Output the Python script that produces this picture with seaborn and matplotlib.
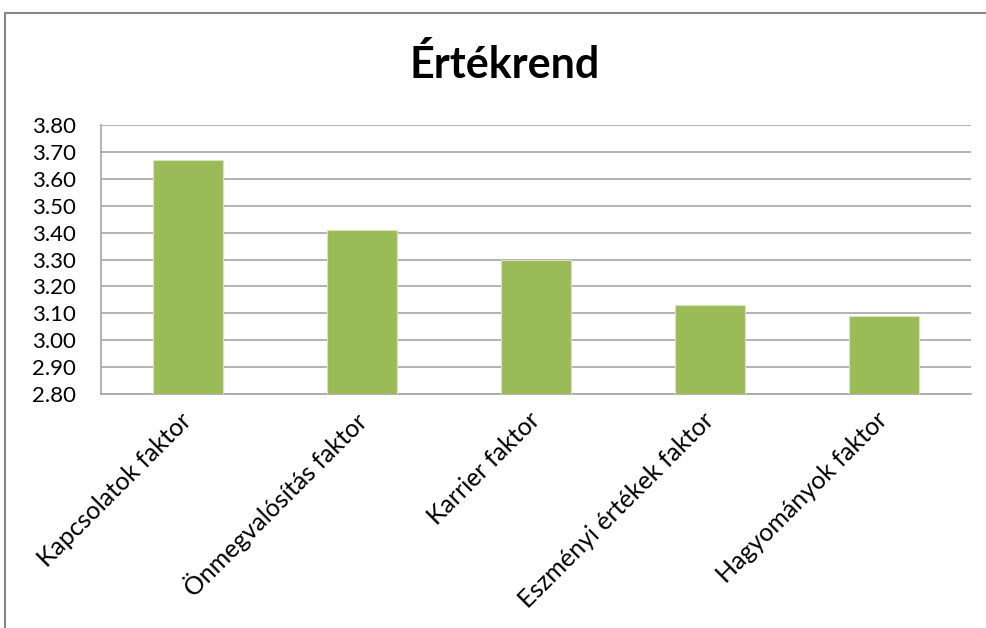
import matplotlib.pyplot as plt
import seaborn as sns
import pandas as pd
from matplotlib.patches import Rectangle

categories = ["Kapcsolatok faktor", "Önmegvalósítás faktor", "Karrier faktor",
              "Eszményi értékek faktor", "Hagyományok faktor"]
values = [3.67, 3.41, 3.30, 3.13, 3.09]
y_ticks = [2.80, 2.90, 3.00, 3.10, 3.20, 3.30, 3.40, 3.50, 3.60, 3.70, 3.80]

df = pd.DataFrame({"faktor": categories, "ertek": values})

sns.set_theme(style="white")
plt.rcParams['font.family'] = ['Lato', 'DejaVu Sans']
plt.rcParams['text.color'] = 'black'

fig = plt.figure(figsize=(9.87, 6.28), dpi=100)
ax = fig.add_axes([0.1023, 0.3721, 0.8812, 0.4293])

sns.barplot(data=df, x="faktor", y="ertek", color="#9BBB59", width=0.4,
            saturation=1, edgecolor="#D7E4BD", linewidth=0.8, ax=ax, zorder=3)

ax.set_ylim(2.80, 3.80)
ax.set_yticks(y_ticks)
ax.set_yticklabels([f"{t:.2f}" for t in y_ticks], fontsize=16)
ax.yaxis.grid(True, color="#A6A6A6", linewidth=1.2, zorder=0)
ax.set_axisbelow(True)
ax.set_xlabel("")
ax.set_ylabel("")
ax.tick_params(axis="y", length=0, pad=18, colors="black")
ax.tick_params(axis="x", length=0, pad=16, colors="black")
for lbl in ax.get_xticklabels():
    lbl.set_rotation(45)
    lbl.set_ha("right")
    lbl.set_va("center")
    lbl.set_rotation_mode("anchor")
    lbl.set_fontsize(18)

for side in ["top", "right"]:
    ax.spines[side].set_visible(False)
ax.spines["left"].set_color("#A6A6A6")
ax.spines["left"].set_linewidth(1.2)
ax.spines["bottom"].set_color("#A6A6A6")
ax.spines["bottom"].set_linewidth(1.2)

fig.suptitle("Értékrend", fontsize=31, fontweight="bold", x=0.511, y=0.898,
             va="center", color="black")

# outer chart frame
fig.patches.append(Rectangle((5 / 987, -0.05), 1.2, 1 - 13 / 628 + 0.05,
                             transform=fig.transFigure, fill=False,
                             edgecolor="#878787", linewidth=1.5))

plt.savefig("out.png", dpi=100)
